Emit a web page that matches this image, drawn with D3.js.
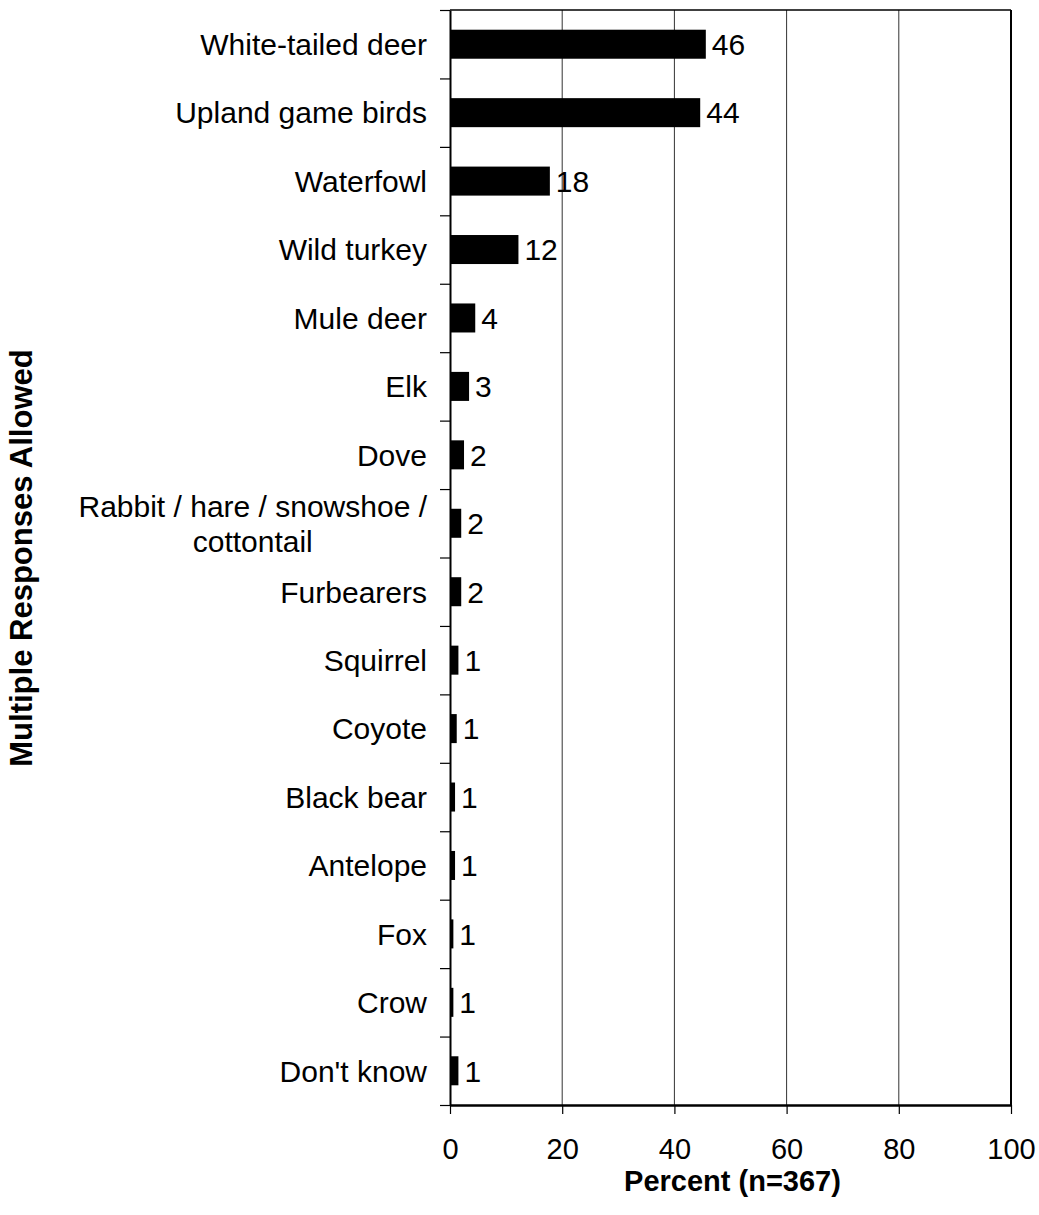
<!DOCTYPE html>
<html>
<head>
<meta charset="utf-8">
<script src="https://cdn.jsdelivr.net/npm/d3@7"></script>
<style>
  body { margin: 0; background: #fff; }
  text { font-family: "Liberation Sans", Arial, sans-serif; fill: #000; }
</style>
</head>
<body>
<svg id="chart"></svg>
<script>
// categories, top to bottom
var categories = ["White-tailed deer", "Upland game birds", "Waterfowl", "Wild turkey",
    "Mule deer", "Elk", "Dove", "Rabbit / hare / snowshoe / cottontail", "Furbearers",
    "Squirrel", "Coyote", "Black bear", "Antelope", "Fox", "Crow", "Don't know"];
// bar lengths
var values = [45.6, 44.6, 17.8, 12.2, 4.5, 3.4, 2.5, 2.0, 2.0, 1.5, 1.2, 0.9, 0.9, 0.6, 0.6, 1.5];
// printed labels
var valueLabels = ["46", "44", "18", "12", "4", "3", "2", "2", "2", "1", "1", "1", "1", "1", "1", "1"];
var xTicks = [0, 20, 40, 60, 80, 100];

var W = 1039, H = 1215;
var margin = { top: 10, right: 28, bottom: 110, left: 450 },
    width = W - margin.left - margin.right,
    height = H - margin.top - margin.bottom;

var svg = d3.select("#chart")
    .attr("width", W)
    .attr("height", H);

var g = svg.append("g")
    .attr("transform", "translate(" + margin.left + "," + margin.top + ")");

var x = d3.scaleLinear().domain([0, 100]).range([0, width]);

var y = d3.scaleBand()
    .domain(categories)
    .range([0, height])
    .paddingInner(0.576)
    .paddingOuter(0.288);

var yIdx = d3.scaleLinear().domain([0, categories.length]).range([0, height]);

// gridlines
g.selectAll(".grid")
    .data(xTicks.filter(function (d) { return d > 0 && d < 100; }))
    .enter().append("line")
    .attr("x1", function (d) { return x(d); })
    .attr("x2", function (d) { return x(d); })
    .attr("y1", 0)
    .attr("y2", height)
    .attr("stroke", "#333")
    .attr("stroke-width", 1);

// top and right border
g.append("line")
    .attr("x1", 0).attr("x2", width)
    .attr("y1", 0).attr("y2", 0)
    .attr("stroke", "#000").attr("stroke-width", 1.5);
g.append("line")
    .attr("x1", width).attr("x2", width)
    .attr("y1", 0).attr("y2", height)
    .attr("stroke", "#000").attr("stroke-width", 2);

// bars
g.selectAll(".bar")
    .data(values)
    .enter().append("rect")
    .attr("class", "bar")
    .attr("x", 0)
    .attr("y", function (d, i) { return y(categories[i]); })
    .attr("width", function (d) { return x(d); })
    .attr("height", y.bandwidth())
    .attr("fill", "#000");

// value labels
g.selectAll(".vlab")
    .data(values)
    .enter().append("text")
    .attr("x", function (d) { return x(d) + 6; })
    .attr("y", function (d, i) { return y(categories[i]) + y.bandwidth() / 2; })
    .attr("dy", "0.36em")
    .style("font-size", "30px")
    .text(function (d, i) { return valueLabels[i]; });

// left axis with ticks on band boundaries
var yAxis = g.append("g")
    .call(d3.axisLeft(yIdx)
        .tickValues(d3.range(categories.length + 1))
        .tickFormat("")
        .tickSize(10)
        .tickSizeOuter(0));
yAxis.select(".domain").attr("stroke-width", 2);
yAxis.selectAll(".tick line").attr("stroke-width", 1.2);

// category labels
var lab = g.append("g");
categories.forEach(function (c, i) {
    var cy = y(c) + y.bandwidth() / 2;
    if (c.indexOf("cottontail") >= 0) {
        var first = lab.append("text")
            .attr("x", -23)
            .attr("y", cy - 17.5)
            .attr("dy", "0.36em")
            .attr("text-anchor", "end")
            .style("font-size", "30px")
            .text("Rabbit / hare / snowshoe /");
        var w = first.node().getComputedTextLength();
        lab.append("text")
            .attr("x", -23 - w / 2)
            .attr("y", cy + 17.5)
            .attr("dy", "0.36em")
            .attr("text-anchor", "middle")
            .style("font-size", "30px")
            .text("cottontail");
    } else {
        lab.append("text")
            .attr("x", -23)
            .attr("y", cy)
            .attr("dy", "0.36em")
            .attr("text-anchor", "end")
            .style("font-size", "30px")
            .text(c);
    }
});

// bottom axis
var xAxis = g.append("g")
    .attr("transform", "translate(0," + height + ")")
    .call(d3.axisBottom(x)
        .tickValues(xTicks)
        .tickSize(9)
        .tickSizeOuter(0)
        .tickPadding(24));
xAxis.select(".domain").attr("stroke-width", 2.5);
xAxis.selectAll(".tick line").attr("stroke-width", 1.2);
xAxis.selectAll(".tick text")
    .style("font-size", "29px")
    .style("font-family", "'Liberation Sans', Arial, sans-serif")
    .attr("fill", "#000");

// axis titles
svg.append("text")
    .attr("x", margin.left + width / 2 + 2)
    .attr("y", 1191)
    .attr("text-anchor", "middle")
    .style("font-size", "29px")
    .style("font-weight", "bold")
    .text("Percent (n=367)");

svg.append("text")
    .attr("transform", "translate(32,558) rotate(-90)")
    .attr("text-anchor", "middle")
    .style("font-size", "31px")
    .style("font-weight", "bold")
    .text("Multiple Responses Allowed");
</script>
</body>
</html>
